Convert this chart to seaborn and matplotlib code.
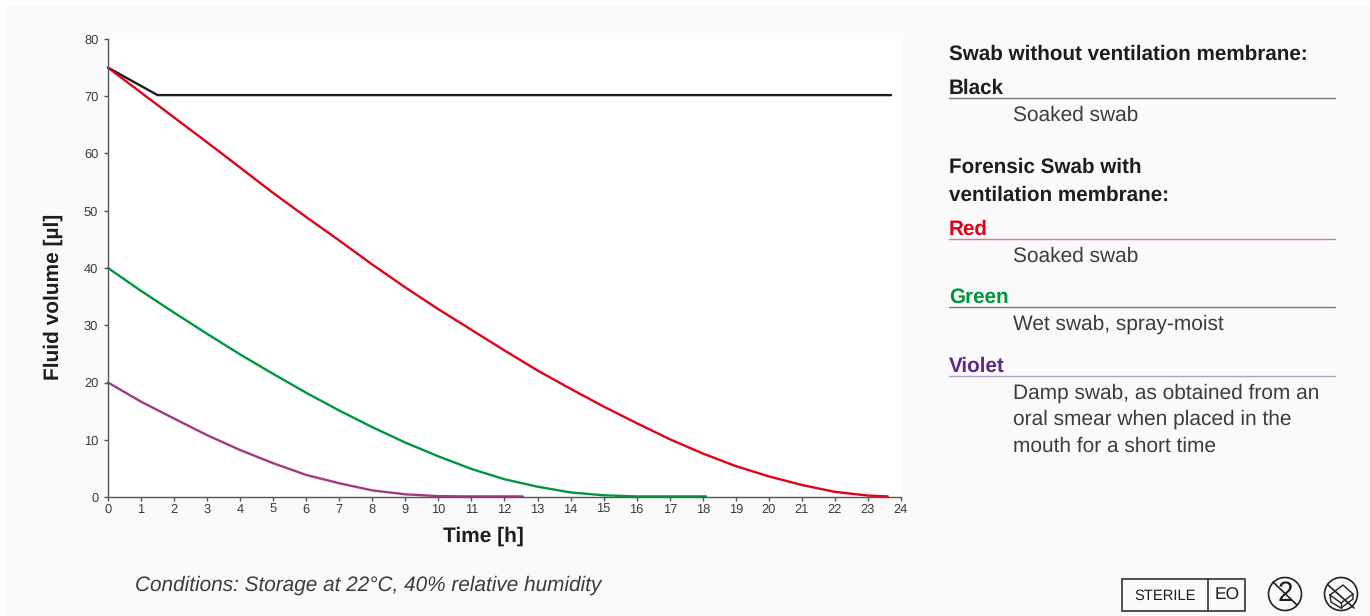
import numpy as np
import pandas as pd
import matplotlib.pyplot as plt
from matplotlib.patches import Circle, Rectangle
import seaborn as sns

sns.set_theme(style="white")
plt.rcParams["font.family"] = ["Liberation Sans", "DejaVu Sans"]
plt.rcParams["text.hinting"] = "no_hinting"
plt.rcParams["text.hinting_factor"] = 8

# values
black_t = [0, 1.5, 23.7]
black_v = [75, 70.2, 70.2]
red_t = [0, 1.47, 3.24, 5, 6, 7, 8, 9, 10, 11, 12, 13, 14, 15, 16, 17, 18, 19, 20, 21, 22, 23, 23.6]
red_v = [75, 68.6, 60.9, 53.1, 48.9, 44.8, 40.6, 36.6, 32.8, 29.2, 25.6, 22.1, 18.9, 15.8, 12.9,
         10.1, 7.6, 5.4, 3.6, 2.1, 0.9, 0.25, 0.1]
green_t = [0, 1, 2, 3, 4, 5, 6, 7, 8, 9, 10, 11, 12, 13, 14, 15, 16, 17, 18.1]
green_v = [40, 36, 32.2, 28.5, 24.9, 21.5, 18.2, 15.1, 12.2, 9.5, 7.1, 4.9, 3.1, 1.8, 0.8, 0.3, 0.1, 0.1, 0.1]
violet_t = [0, 1, 2, 3, 4, 5, 6, 7, 8, 9, 10, 11, 12.55]
violet_v = [20, 16.65, 13.7, 10.8, 8.2, 5.9, 3.85, 2.4, 1.15, 0.47, 0.15, 0.1, 0.1]

x_ticks = list(range(0, 25))
y_ticks = list(range(0, 81, 10))

W, H = 1370, 616
BG = "#fafafa"
DARK = "#1d1d1b"
GREY = "#3c3c3b"

df = pd.concat([
    pd.DataFrame({"t": black_t, "v": black_v, "s": "Black"}),
    pd.DataFrame({"t": red_t, "v": red_v, "s": "Red"}),
    pd.DataFrame({"t": green_t, "v": green_v, "s": "Green"}),
    pd.DataFrame({"t": violet_t, "v": violet_v, "s": "Violet"}),
])
palette = {"Black": "#1d1d1b", "Red": "#e2001a", "Green": "#009640", "Violet": "#a5387f"}

fig = plt.figure(figsize=(W / 100, H / 100), dpi=100, facecolor="white")

# page background, all drawn in pixel coordinates
page = fig.add_axes([0, 0, 1, 1], zorder=0)
page.set_xlim(0, W)
page.set_ylim(H, 0)
page.axis("off")
page.add_patch(Rectangle((6, 6), W - 6, H - 6, fc=BG, ec="none"))

ax = fig.add_axes([108 / W, 1 - 497 / H, (901 - 108) / W, (497 - 39) / H], zorder=1)
ax.set_facecolor("white")
sns.lineplot(data=df, x="t", y="v", hue="s", palette=palette, sort=False, estimator=None,
             linewidth=1.7, legend=False, ax=ax, clip_on=False)
ax.set_xlim(0, 24)
ax.set_ylim(0, 80)
ax.set_xticks(x_ticks)
ax.set_yticks(y_ticks)
ax.tick_params(axis="x", length=3, width=1, color="#555555", labelsize=9.3, labelcolor=GREY, pad=2, bottom=True)
ax.tick_params(axis="y", length=3, width=1, color="#555555", labelsize=9.3, labelcolor=GREY, pad=4, left=True)
for side in ["top", "right"]:
    ax.spines[side].set_visible(False)
for side in ["left", "bottom"]:
    ax.spines[side].set_color("#555555")
    ax.spines[side].set_linewidth(1)
ax.set_xlabel("")
ax.set_ylabel("")

page.text(483, 536.5, "Time [h]", fontsize=15, fontweight="bold", color=DARK, ha="center", va="center")
page.text(53, 297, "Fluid volume [µl]", fontsize=15, fontweight="bold", color=DARK, ha="center",
          va="center", rotation=90)
page.text(135, 585, "Conditions: Storage at 22°C, 40% relative humidity", fontsize=14.95, style="italic",
          color=GREY, va="center")

# legend panel on the right
def head(y, txt, color=DARK):
    page.text(949, y + 1, txt, fontsize=14.85, fontweight="bold", color=color, va="center")

def body(y, txt):
    page.text(1013, y + 1, txt, fontsize=15, color=GREY, va="center")

head(53, "Swab without ventilation membrane:")
head(87, "Black")
page.plot([949, 1335], [98, 98], color="#777777", lw=1)
body(114, "Soaked swab")
head(166, "Forensic Swab with")
head(194, "ventilation membrane:")
head(228, "Red", "#e2001a")
page.plot([949, 1335], [239, 239], color="#e2788a", lw=1)
body(255, "Soaked swab")
head(296, "Green", "#009640")
page.plot([949, 1335], [307, 307], color="#777777", lw=1)
body(323, "Wet swab, spray-moist")
head(365, "Violet", "#5a2a86")
page.plot([949, 1335], [376, 376], color="#b49cc8", lw=1)
body(392, "Damp swab, as obtained from an")
body(418, "oral smear when placed in the")
body(445, "mouth for a short time")

# symbols bottom right
page.add_patch(Rectangle((1122, 578.5), 123, 32, fc="none", ec="#333333", lw=1.2))
page.plot([1208, 1208], [579, 610], color="#333333", lw=1.2)
page.text(1165, 595.5, "STERILE", fontsize=10.6, color=DARK, ha="center", va="center")
page.text(1227, 595.5, "EO", fontsize=12.5, color=DARK, ha="center", va="center")
page.add_patch(Circle((1285, 594), 16.5, fc="none", ec="#222222", lw=1.2))
page.text(1285, 594, "2", fontsize=20, color=DARK, ha="center", va="center")
page.plot([1273, 1297], [582, 605], color="#222222", lw=1.2)
page.add_patch(Circle((1341, 594), 16.5, fc="none", ec="#222222", lw=1.2))
page.plot([1330, 1343, 1353, 1353, 1341, 1331, 1330], [595, 585, 594, 599, 608, 602, 595], color="#222222", lw=1)
page.plot([1330, 1341, 1353], [595, 603, 594], color="#222222", lw=1)
page.plot([1341, 1341], [603, 608], color="#222222", lw=1)
page.plot([1328, 1354], [585, 608], color="#222222", lw=1.2)

fig.savefig("out.png", dpi=100, facecolor=fig.get_facecolor())
